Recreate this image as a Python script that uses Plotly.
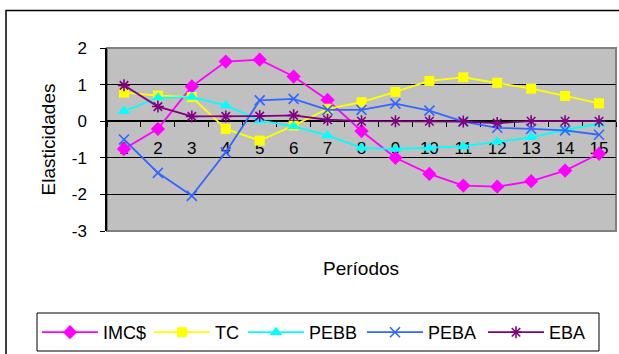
import plotly.graph_objects as go

periods = [str(i) for i in range(1, 16)]
imc = [-0.76, -0.21, 0.95, 1.63, 1.68, 1.22, 0.58, -0.27, -1.0, -1.44, -1.76, -1.79, -1.64, -1.35, -0.89]
tc = [0.78, 0.70, 0.66, -0.21, -0.53, -0.12, 0.34, 0.52, 0.80, 1.10, 1.20, 1.05, 0.89, 0.69, 0.49]
pebb = [0.27, 0.64, 0.66, 0.43, 0.02, -0.14, -0.39, -0.73, -0.76, -0.73, -0.69, -0.56, -0.44, -0.24, -0.07]
peba = [-0.50, -1.41, -2.04, -0.85, 0.57, 0.61, 0.31, 0.31, 0.48, 0.29, -0.01, -0.18, -0.21, -0.25, -0.37]
eba = [0.98, 0.40, 0.13, 0.13, 0.14, 0.16, 0.04, 0.0, 0.0, 0.0, -0.01, -0.05, 0.0, 0.0, 0.0]
y_ticks = [-3, -2, -1, 0, 1, 2]
y_labels = ["-3", "-2", "-1", "0", "1", "2"]

FONT = "Liberation Sans, Arial, sans-serif"

series = [
    ("IMC$", imc, "#FF00FF", dict(symbol="diamond", size=11)),
    ("TC", tc, "#FFFF00", dict(symbol="square", size=10)),
    ("PEBB", pebb, "#00FFFF", dict(symbol="triangle-up", size=11)),
    ("PEBA", peba, "#3366FF", dict(symbol="x-thin-open", size=10, line=dict(width=1.6, color="#3366FF"))),
    ("EBA", eba, "#800080", dict(symbol="asterisk-open", size=10, line=dict(width=1.6, color="#800080"))),
]

# legend entry left edges (px) in the original legend row
legend_x = [37, 149, 243, 362, 483]

fig = go.Figure()
for i, (name, vals, col, mk) in enumerate(series):
    m = dict(color=col, **mk)
    lg = "legend" if i == 0 else f"legend{i + 1}"
    fig.add_trace(go.Scatter(x=periods, y=vals, name=name, mode="lines+markers",
                             line=dict(color=col, width=1.8), marker=m, legend=lg))

# plot-area pixel geometry
FW, FH = 619, 354
L, R, T, B = 107, 3, 48, 123
W = FW - L - R
H = FH - T - B

def px(x):
    return (x - L) / W

def py(y):
    return (FH - B - y) / H

legends = {}
for i, lx in enumerate(legend_x):
    key = "legend" if i == 0 else f"legend{i + 1}"
    legends[key] = dict(orientation="h", xref="container", yref="container",
                        x=lx / FW, y=1 - 314 / FH, xanchor="left", yanchor="top",
                        borderwidth=0, bgcolor="rgba(0,0,0,0)",
                        font=dict(size=18, family=FONT), itemwidth=56)

fig.update_layout(
    width=FW, height=FH,
    margin=dict(l=L, r=R, t=T, b=B, autoexpand=False),
    paper_bgcolor="white",
    plot_bgcolor="#C0C0C0",
    font=dict(family=FONT, size=17, color="black"),
    showlegend=True,
    xaxis=dict(type="category", range=[-0.5, 14.5], anchor="free", position=0.6,
               showline=True, linecolor="black", linewidth=1.5,
               ticks="outside", tickson="boundaries", ticklen=5, tickcolor="black",
               showgrid=False, tickfont=dict(size=17), ticklabelstandoff=12,
               layer="below traces"),
    yaxis=dict(range=[-3, 2], tickvals=y_ticks, ticktext=y_labels, showline=True, linecolor="black",
               linewidth=1.5, ticks="outside", ticklen=5, tickcolor="black",
               showgrid=True, gridcolor="black", gridwidth=1, zeroline=False,
               tickfont=dict(size=17), ticklabelstandoff=10),
    shapes=[
        dict(type="rect", xref="paper", yref="paper", x0=0, x1=1, y0=0, y1=1,
             line=dict(color="#808080", width=2), layer="below"),
        dict(type="rect", xref="paper", yref="paper", x0=px(6), x1=px(630), y0=py(10.5), y1=py(370),
             line=dict(color="black", width=1.5), layer="below"),
        dict(type="rect", xref="paper", yref="paper", x0=px(37), x1=px(599), y0=py(313), y1=py(351),
             line=dict(color="black", width=1), layer="below"),
    ],
    annotations=[
        dict(text="Elasticidades", xref="paper", yref="paper", x=px(48), y=0.5,
             textangle=-90, showarrow=False, font=dict(size=19), xanchor="center", yanchor="middle"),
        dict(text="Períodos", xref="paper", yref="paper", x=px(361), y=py(268),
             showarrow=False, font=dict(size=19), xanchor="center", yanchor="middle"),
    ],
    **legends,
)

fig.write_html("out.html", config={"displayModeBar": False},
               post_script="document.body.style.margin='0px';document.body.style.overflow='hidden';")
